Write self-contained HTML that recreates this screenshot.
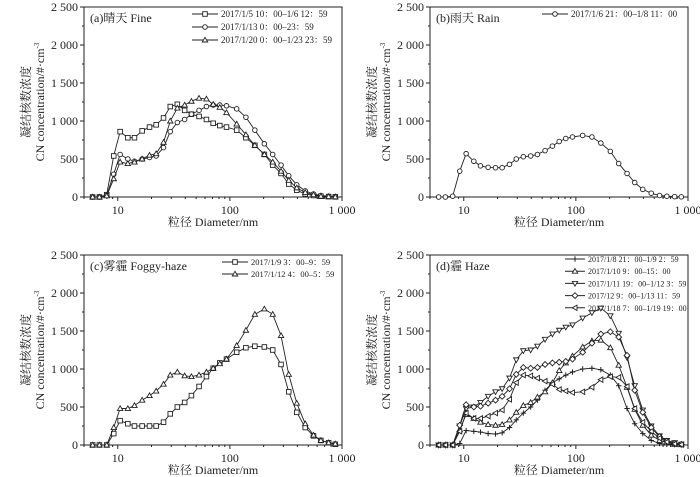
<!DOCTYPE html>
<html><head><meta charset="utf-8">
<style>
body{margin:0;background:#fff;}
svg{display:block;font-family:"Liberation Serif","Noto Serif CJK SC","Noto Sans CJK SC",serif;}
</style></head>
<body>
<svg id="chart" width="700" height="477" viewBox="0 0 700 477" xmlns="http://www.w3.org/2000/svg"></svg>
<script>
const diameters=[5.97,6.86,7.97,9.21,10.5,12.3,14.1,16.5,19.2,22.0,25.6,29.4,34.0,39.5,45.4,53.1,61.8,71.0,81.3,93.3,115,139,167,203,241,286,335,395,470,557,648,760,871];
const yTicks=[0,500,1000,1500,2000,2500];
const yTickLabels=["0","500","1 000","1 500","2 000","2 500"];
const xTicks=[10,100,1000];
const xTickLabels=["10","100","1 000"];
// (a) Fine
const fineS1=[0,0,30,540,860,780,780,870,920,950,1040,1190,1220,1140,1090,1060,1020,970,940,920,880,780,680,560,420,310,170,90,40,20,10,5,2];
const fineS2=[0,0,20,300,560,500,470,500,520,540,650,860,980,1020,1090,1140,1190,1210,1210,1200,1160,1050,880,700,560,420,280,160,80,40,20,10,5];
const fineS3=[0,0,15,240,460,440,460,500,550,570,720,1000,1170,1210,1260,1300,1290,1220,1180,1110,960,820,680,560,460,340,220,120,60,30,10,5,2];
// (b) Rain
const rainS1=[0,0,10,340,570,470,410,390,385,385,430,500,530,540,560,610,670,730,770,790,810,790,710,600,440,310,190,100,50,20,10,5,2];
// (c) Foggy-haze
const fogS1=[0,0,0,150,320,280,250,250,250,250,300,410,500,560,650,770,900,1010,1080,1130,1220,1280,1300,1290,1250,1060,700,430,230,120,60,30,10];
const fogS2=[0,0,0,230,480,480,520,590,650,710,800,920,960,910,900,920,960,1010,1070,1130,1310,1510,1720,1790,1720,1440,930,550,280,130,60,30,15];
// (d) Haze
const hazeS1=[0,0,0,20,190,180,170,150,145,160,230,330,420,500,590,720,820,870,920,960,1000,1010,990,920,780,480,280,150,60,20,10,5,2];
const hazeS2=[0,0,0,200,400,350,300,270,260,270,330,430,520,560,630,700,820,980,1080,1170,1290,1370,1380,1280,1050,760,470,260,130,60,30,10,5];
const hazeS3=[0,0,0,250,480,500,560,640,700,740,880,1120,1240,1250,1300,1390,1460,1510,1550,1580,1670,1740,1800,1700,1470,1150,780,460,250,120,60,30,10];
const hazeS4=[0,0,0,260,530,500,510,550,590,640,740,930,1020,1010,1020,1060,1080,1090,1100,1130,1220,1340,1460,1490,1420,1180,720,430,230,110,50,20,10];
const hazeS5=[0,0,0,180,420,350,350,380,420,460,600,820,920,910,880,840,800,730,710,690,700,760,860,900,890,770,480,300,180,90,40,15,5];

const NS="http://www.w3.org/2000/svg";
const svg=document.getElementById('chart');
function mk(tag,attrs,parent){const e=document.createElementNS(NS,tag);for(const k in attrs)e.setAttribute(k,attrs[k]);(parent||svg).appendChild(e);return e;}
const C="#222";

function marker(g,type,x,y){
  const s=2.3;let e;
  if(type==='square'){e=mk('rect',{x:x-s,y:y-s,width:2*s,height:2*s,fill:'#fff',stroke:C,'stroke-width':0.9},g);}
  else if(type==='circle'){e=mk('circle',{cx:x,cy:y,r:s,fill:'#fff',stroke:C,'stroke-width':0.9},g);}
  else if(type==='up'){e=mk('polygon',{points:`${x},${y-2.7} ${x-2.7},${y+2} ${x+2.7},${y+2}`,fill:'#fff',stroke:C,'stroke-width':0.9},g);}
  else if(type==='down'){e=mk('polygon',{points:`${x},${y+2.7} ${x-2.7},${y-2} ${x+2.7},${y-2}`,fill:'#fff',stroke:C,'stroke-width':0.9},g);}
  else if(type==='left'){e=mk('polygon',{points:`${x-2.7},${y} ${x+2},${y-2.7} ${x+2},${y+2.7}`,fill:'#fff',stroke:C,'stroke-width':0.9},g);}
  else if(type==='diamond'){e=mk('polygon',{points:`${x},${y-2.9} ${x+2.9},${y} ${x},${y+2.9} ${x-2.9},${y}`,fill:'#fff',stroke:C,'stroke-width':0.9},g);}
  else {e=mk('path',{d:`M${x-2.7},${y}H${x+2.7}M${x},${y-2.7}V${y+2.7}`,stroke:C,'stroke-width':1},g);}
  
  
}

function panel(p){
  const g=mk('g',{});
  
  
  const L=p.left,R=p.left+258,T=p.top,B=p.top+190;
  const xs=d=>L+(Math.log10(d)-Math.log10(5))/Math.log10(200)*(R-L);
  const ys=v=>B-v/2500*(B-T);
  const frame=mk('rect',{x:L,y:T,width:R-L,height:B-T,fill:'none',stroke:C,'stroke-width':1},g);
  
  
  for(let v=0;v<=2500;v+=250){const y=ys(v);mk('line',{x1:L-(v%500===0?4:2),x2:L,y1:y,y2:y,stroke:C},g);}
  yTicks.forEach((v,i)=>{const t=mk('text',{x:L-6,y:ys(v)+4,'text-anchor':'end','font-size':12,fill:C},g);t.textContent=yTickLabels[i];
    });
  for(let dec=1;dec<=100;dec*=10){for(let m=1;m<=9;m++){const d=dec*m;if(d<5)continue;mk('line',{x1:xs(d),x2:xs(d),y1:B,y2:B+(m===1?4:2),stroke:C},g);}}
  mk('line',{x1:xs(1000),x2:xs(1000),y1:B,y2:B+4,stroke:C},g);
  xTicks.forEach((d,i)=>{const t=mk('text',{x:xs(d),y:B+17,'text-anchor':'middle','font-size':12,fill:C},g);t.textContent=xTickLabels[i];
    });
  const xt=mk('text',{x:(L+R)/2,y:B+29,'text-anchor':'middle','font-size':12,fill:C},g);xt.textContent='粒径 Diameter/nm';
  
  const cy=(T+B)/2;
  const y1=mk('text',{x:0,y:0,'text-anchor':'middle','font-size':12,fill:C,transform:`translate(${L-54},${cy}) rotate(-90)`},g);y1.textContent='凝结核数浓度';
  
  const y2=mk('text',{x:0,y:0,'text-anchor':'middle','font-size':12,fill:C,transform:`translate(${L-40},${cy}) rotate(-90)`},g);
  y2.innerHTML='CN concentration/#·cm<tspan dy="-5" font-size="7">-3</tspan>';
  
  const pt=mk('text',{x:L+6,y:T+15,'font-size':12,fill:C},g);pt.textContent=p.title;
  
  p.series.forEach((s,si)=>{
    const sg=mk('g',{},g);
    
    
    const pts=s.data.map((v,i)=>xs(diameters[i]).toFixed(1)+','+ys(v).toFixed(1)).join(' ');
    mk('polyline',{points:pts,fill:'none',stroke:C,'stroke-width':0.9},sg);
    s.data.forEach((v,i)=>marker(sg,s.m,xs(diameters[i]),ys(v)));
    const ly=p.legY+si*p.legStep;
    const lg=mk('g',{},g);
    
    
    mk('line',{x1:p.legX,x2:p.legX+p.legLine,y1:ly,y2:ly,stroke:C,'stroke-width':1},lg);
    marker(lg,s.m,p.legX+p.legLine/2,ly);
    const lt=mk('text',{x:p.legX+p.legLine+3,y:ly+3,'font-size':p.legFont,fill:C},lg);lt.textContent=s.label;
  });
}

panel({name:'panel-a-fine',left:84,top:7,title:'(a)晴天 Fine',legX:192,legLine:26,legFont:9,legY:14,legStep:13,series:[
 {data:fineS1,m:'square',label:'2017/1/5 10：00–1/6 12：59'},
 {data:fineS2,m:'circle',label:'2017/1/13 0：00–23：59'},
 {data:fineS3,m:'up',label:'2017/1/20 0：00–1/23 23：59'}]});
panel({name:'panel-b-rain',left:430,top:7,title:'(b)雨天 Rain',legX:542,legLine:26,legFont:9,legY:14,legStep:13,series:[
 {data:rainS1,m:'circle',label:'2017/1/6 21：00–1/8 11：00'}]});
panel({name:'panel-c-foggy-haze',left:84,top:255,title:'(c)雾霾 Foggy-haze',legX:222,legLine:26,legFont:8.5,legY:262,legStep:12,series:[
 {data:fogS1,m:'square',label:'2017/1/9 3：00–9：59'},
 {data:fogS2,m:'up',label:'2017/1/12 4：00–5：59'}]});
panel({name:'panel-d-haze',left:430,top:255,title:'(d)霾 Haze',legX:565,legLine:20,legFont:8,legY:259,legStep:12.2,series:[
 {data:hazeS1,m:'plus',label:'2017/1/8 21：00–1/9 2：59'},
 {data:hazeS2,m:'up',label:'2017/1/10 9：00–15：00'},
 {data:hazeS3,m:'down',label:'2017/1/11 19：00–1/12 3：59'},
 {data:hazeS4,m:'diamond',label:'2017/12 9：00–1/13 11：59'},
 {data:hazeS5,m:'left',label:'2017/1/18 7：00–1/19 19：00'}]});
</script>
</body></html>
